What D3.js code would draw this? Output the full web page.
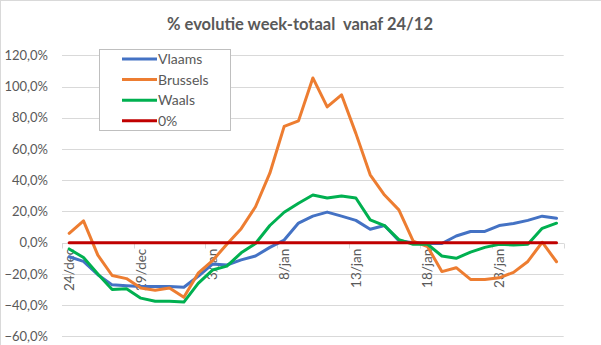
<!DOCTYPE html>
<html>
<head>
<meta charset="utf-8">
<script src="https://cdn.jsdelivr.net/npm/d3@7"></script>
<style>
  html, body { margin: 0; padding: 0; background: #fff; }
  svg { display: block; font-family: Lato, "Open Sans", sans-serif; }
</style>
</head>
<body>
<svg id="chart" width="601" height="345"></svg>
<script>
const categories = ["24/dec","25/dec","26/dec","27/dec","28/dec","29/dec","30/dec","31/dec",
  "1/jan","2/jan","3/jan","4/jan","5/jan","6/jan","7/jan","8/jan","9/jan","10/jan","11/jan",
  "12/jan","13/jan","14/jan","15/jan","16/jan","17/jan","18/jan","19/jan","20/jan","21/jan",
  "22/jan","23/jan","24/jan","25/jan","26/jan","27/jan"];
const tickLabels = ["24/dec","29/dec","3/jan","8/jan","13/jan","18/jan","23/jan"];
const vlaams = [-9,-12,-20.5,-27,-27.5,-28,-28,-28,-28.5,-21.5,-13.7,-14.3,-11,-8.5,-3,1.7,12.6,17,19.6,17,14.3,8.6,11,1.2,0,-0.5,-0.5,4.3,7.2,7.2,11,12.3,14.3,17,15.6];
const brussels = [6,14,-8,-21,-23,-29,-30.5,-29,-35,-19.5,-11.5,-1,9,23,44.5,74.5,78,105.5,87,94.7,70,43.5,30.5,21,1,-2.5,-18.5,-16,-23.5,-23.5,-22.5,-19,-12,0.3,-12.2];
const waals = [-4,-9.5,-20,-30,-29.5,-35.5,-37.5,-37.5,-38,-26,-17.5,-15,-6.5,-0.5,11,19.5,25.3,30.5,28.6,29.9,28.6,14.6,10.9,2,-1,-1,-8.5,-10,-6,-3,-1,-1.5,-1,9.2,12.5];
const zero = categories.map(() => 0);
const yTicks = [-60,-40,-20,0,20,40,60,80,100,120];
const seriesNames = ["Vlaams","Brussels","Waals","0%"];
const title = "% evolutie week-totaal  vanaf 24/12";

const series = [
  {name: seriesNames[0], values: vlaams, color: "#4472C4"},
  {name: seriesNames[1], values: brussels, color: "#ED7D31"},
  {name: seriesNames[2], values: waals, color: "#00B050"},
  {name: seriesNames[3], values: zero, color: "#C00000"}
];

const svg = d3.select("#chart");
const textColor = "#595959";
const gridColor = "#d9d9d9";

// outer border (top/left visible)
svg.append("line").attr("x1",0).attr("x2",601).attr("y1",0.5).attr("y2",0.5).attr("stroke",gridColor);
svg.append("line").attr("x1",0.5).attr("x2",0.5).attr("y1",0).attr("y2",345).attr("stroke",gridColor);

const x = d3.scaleBand().domain(categories).range([62, 563.7]).padding(0);
const y = d3.scaleLinear().domain([-60, 120]).range([336.4, 55.3]);
const xc = c => x(c) + x.bandwidth() / 2;

// gridlines
svg.append("g").selectAll("line").data(yTicks).join("line")
  .attr("x1", 62).attr("x2", 563.7)
  .attr("y1", d => Math.round(y(d)) + 0.5).attr("y2", d => Math.round(y(d)) + 0.5)
  .attr("stroke", gridColor).attr("stroke-width", 1);

// y axis labels
const yAxis = d3.axisLeft(y).tickValues(yTicks).tickSize(0)
  .tickFormat(d => d3.format(".1f")(d).replace(".", ",") + "%");
const gy = svg.append("g").attr("transform", "translate(48,0)").call(yAxis);
gy.select(".domain").remove();
gy.selectAll("text").attr("x", 0).attr("fill", textColor)
  .style("font-size", "13px").style("font-family", "Lato, sans-serif");

// category axis line
const axisY = Math.round(y(0)) + 0.5;
svg.append("line").attr("x1", 62).attr("x2", 563.7).attr("y1", axisY).attr("y2", axisY)
  .attr("stroke", gridColor);
// tick marks at band boundaries every 5 categories
const tickEdges = tickLabels.map(c => x(c)).concat([563.7]);
svg.append("g").selectAll("line").data(tickEdges).join("line")
  .attr("x1", d => Math.round(d) + 0.5).attr("x2", d => Math.round(d) + 0.5)
  .attr("y1", axisY).attr("y2", axisY + 5).attr("stroke", gridColor);

// x labels
const xAxis = d3.axisBottom(x).tickValues(tickLabels).tickSize(0);
const gx = svg.append("g").attr("transform", `translate(0,${y(0)})`).call(xAxis);
gx.select(".domain").remove();
gx.selectAll("text")
  .attr("transform", "rotate(-90)")
  .attr("x", -6).attr("y", 0).attr("dy", "0.35em")
  .style("text-anchor", "end")
  .attr("fill", textColor)
  .style("font-size", "13.5px").style("font-family", "Lato, sans-serif");

// lines
const line = d3.line().x((d, i) => xc(categories[i])).y(d => y(d));
svg.append("g").selectAll("path").data(series).join("path")
  .attr("d", d => line(d.values))
  .attr("fill", "none")
  .attr("stroke", d => d.color)
  .attr("stroke-width", 3)
  .attr("stroke-linejoin", "round")
  .attr("stroke-linecap", "round");

// legend
const lg = svg.append("g");
lg.append("rect").attr("x", 99.5).attr("y", 49.5).attr("width", 131).attr("height", 81)
  .attr("fill", "#fff").attr("stroke", "#bfbfbf");
const rows = lg.selectAll("g.row").data(series).join("g").attr("class", "row")
  .attr("transform", (d, i) => `translate(0,${59 + i * 20.6})`);
rows.append("line").attr("x1", 122).attr("x2", 157).attr("y1", 0).attr("y2", 0)
  .attr("stroke", d => d.color).attr("stroke-width", 3);
rows.append("text").attr("x", 158).attr("y", 0).attr("dy", "0.35em")
  .attr("fill", textColor).style("font-size", "14px")
  .text(d => d.name);

// title
svg.append("text").attr("x", 300).attr("y", 30).attr("text-anchor", "middle")
  .attr("fill", textColor).style("font-size", "16.5px").style("font-weight", "bold")
  .style("white-space", "pre").attr("xml:space", "preserve")
  .text(title);
</script>
</body>
</html>
